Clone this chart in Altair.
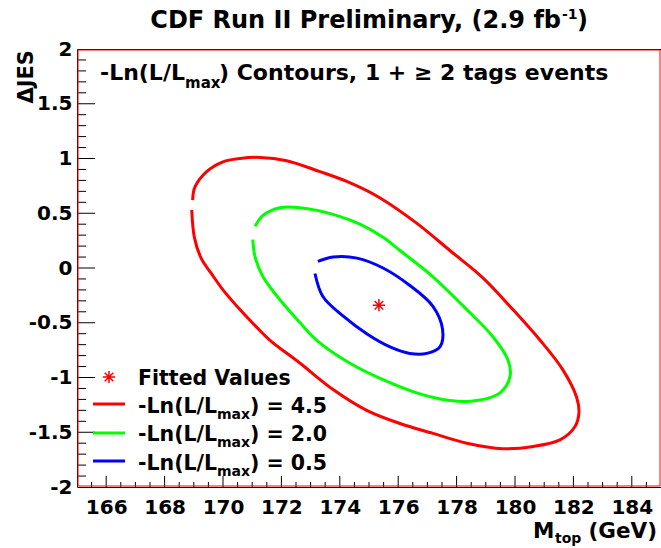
import altair as alt
import pandas as pd

# ---- data (M_top in GeV, Delta JES) ----
red_m = [168.96, 169.04, 169.44, 170.00, 170.58, 171.27, 172.18, 173.32, 174.24, 175.38,
         176.63, 177.77, 178.90, 179.93, 180.86, 181.64, 182.11, 182.19, 182.05, 181.54,
         180.62, 179.59, 178.35, 177.19, 176.06, 174.92, 173.77, 172.64, 171.61, 171.15,
         170.58, 170.00, 169.60, 169.25, 169.02, 168.93]
red_jes = [0.62, 0.74, 0.88, 0.97, 1.00, 1.01, 0.98, 0.88, 0.79, 0.64,
           0.41, 0.16, -0.09, -0.38, -0.66, -0.93, -1.18, -1.32, -1.45, -1.57,
           -1.63, -1.65, -1.60, -1.51, -1.42, -1.30, -1.11, -0.87, -0.66, -0.54,
           -0.38, -0.20, -0.05, 0.09, 0.28, 0.53]

green_m = [171.10, 171.37, 171.95, 172.64, 173.77, 174.69, 175.48, 176.06, 177.19, 178.35,
           179.25, 179.76, 179.83, 179.49, 178.69, 177.77, 176.63, 175.48, 174.35, 173.21,
           172.64, 171.95, 171.37, 171.10, 171.02]
green_jes = [0.38, 0.48, 0.55, 0.55, 0.49, 0.40, 0.28, 0.16, -0.08, -0.38,
             -0.63, -0.84, -0.99, -1.14, -1.21, -1.21, -1.14, -1.02, -0.87, -0.66,
             -0.50, -0.29, -0.08, 0.10, 0.26]

blue_m = [173.25, 173.77, 174.59, 175.48, 176.40, 177.19, 177.52, 177.43, 176.98, 176.40,
          175.72, 174.92, 174.12, 173.42, 173.15]
blue_jes = [0.06, 0.10, 0.09, 0.00, -0.16, -0.35, -0.56, -0.72, -0.78, -0.78,
            -0.72, -0.60, -0.44, -0.26, -0.05]

fit_m = [175.34]
fit_jes = [-0.34]

levels = ["4.5", "2.0", "0.5"]
level_colors = ["#ff0000", "#00ff00", "#0000ff"]

x_labels = [166, 168, 170, 172, 174, 176, 178, 180, 182, 184]
y_labels = [-2, -1.5, -1, -0.5, 0, 0.5, 1, 1.5, 2]
x_minor = [165.5 + 0.5 * k for k in range(39) if (165.5 + 0.5 * k) not in x_labels]
y_major = [-1.5, -1, -0.5, 0, 0.5, 1, 1.5]
y_minor = [round(-1.9 + 0.1 * k, 1) for k in range(39)]
y_minor = [v for v in y_minor if v not in y_major]

# ---- layout ----
W, H = 584, 438
FONT = "DejaVu Sans"

rows = []
for lev, ms, js in [(levels[0], red_m, red_jes), (levels[1], green_m, green_jes), (levels[2], blue_m, blue_jes)]:
    for i, (m, j) in enumerate(zip(ms, js)):
        rows.append({"level": lev, "m": m, "jes": j, "i": i})
contours = pd.DataFrame(rows)
fit = pd.DataFrame({"m": fit_m, "jes": fit_jes})
one = pd.DataFrame({"k": [0]})

xs = alt.Scale(domain=[165, 185], nice=False, zero=False)
ys = alt.Scale(domain=[-2, 2], nice=False, zero=False)

ax_common = dict(ticks=False, domain=False, grid=False, labelFont=FONT, labelFontWeight="bold",
                 labelFontSize=20, labelColor="black", title=None, labelFlush=False)
x_axis = alt.Axis(values=x_labels, labelPadding=10, **ax_common)
y_axis = alt.Axis(values=y_labels, labelPadding=5, labelExpr="datum.value + ''", **ax_common)

lines = alt.Chart(contours).mark_line(strokeWidth=3, clip=True, interpolate="catmull-rom").encode(
    x=alt.X("m:Q", scale=xs, axis=x_axis),
    y=alt.Y("jes:Q", scale=ys, axis=y_axis),
    color=alt.Color("level:N", scale=alt.Scale(domain=levels, range=level_colors), legend=None),
    order="i:Q",
    detail="level:N",
)

STAR = "M-1,0L1,0M0,-1L0,1M-0.7,-0.7L0.7,0.7M-0.7,0.7L0.7,-0.7"

star = alt.Chart(fit).mark_point(shape=STAR, filled=False, color="#ff0000", strokeWidth=1.5,
                                 size=150, opacity=1).encode(
    x=alt.X("m:Q", scale=xs, axis=x_axis), y=alt.Y("jes:Q", scale=ys, axis=y_axis))


def ticks_x(vals, length):
    return alt.Chart(pd.DataFrame({"t": vals})).mark_rule(color="black", strokeWidth=1).encode(
        x=alt.X("t:Q", scale=xs, axis=x_axis), y=alt.value(H), y2=alt.value(H - length))


def ticks_y(vals, length):
    return alt.Chart(pd.DataFrame({"t": vals})).mark_rule(color="black", strokeWidth=1).encode(
        y=alt.Y("t:Q", scale=ys, axis=y_axis), x=alt.value(0), x2=alt.value(length))


def txt(s, x, y, size, align="left", angle=0, color="black"):
    return alt.Chart(one).mark_text(text=s, font=FONT, fontWeight="bold", fontSize=size,
                                    align=align, baseline="alphabetic", angle=angle,
                                    color=color).encode(x=alt.value(x), y=alt.value(y))


def lrule(y, color):
    return alt.Chart(one).mark_rule(color=color, strokeWidth=3).encode(
        x=alt.value(16), x2=alt.value(48), y=alt.value(y))


frame = alt.Chart(one).mark_rect(fill=None, fillOpacity=0, stroke="#ff0000", strokeWidth=1).encode(
    x=alt.value(1), x2=alt.value(W - 1), y=alt.value(1), y2=alt.value(H - 1))

layers = [
    lines, star,
    ticks_x(x_labels, 11), ticks_x(x_minor, 5),
    ticks_y(y_major, 18), ticks_y(y_minor, 9),
    frame,
    # title
    txt("CDF Run II Preliminary, (2.9 fb", 484, -21, 24, align="right"),
    txt("-1", 485, -30, 14),
    txt(")", 500, -21, 24),
    # inner caption
    txt("-Ln(L/L", 23, 31, 22),
    txt("max", 108, 39, 15),
    txt(") Contours,  1 + \u2265 2 tags events", 142, 31, 22),
    # legend
    alt.Chart(one).mark_point(shape=STAR, filled=False, color="#ff0000", strokeWidth=1.5,
                              size=150, opacity=1).encode(x=alt.value(32), y=alt.value(328)),
    txt("Fitted Values", 61, 336, 20.5),
    lrule(355, "#ff0000"), lrule(384, "#00ff00"), lrule(412, "#0000ff"),
]
for k, val in enumerate(["4.5", "2.0", "0.5"]):
    yb = 364 + 28.3 * k
    layers += [
        txt("-Ln(L/L", 61, yb, 20.5),
        txt("max", 140, yb + 6, 14),
        txt(") = " + val, 173, yb, 20.5),
    ]
layers += [
    # axis titles
    txt("M", 456, 489, 21.5),
    txt("top", 478, 494, 14),
    txt(" (GeV)", 580, 489, 21.5, align="right"),
    txt("\u0394JES", -44, 1, 21, align="right", angle=270),
]

chart = alt.layer(*layers).properties(
    width=W, height=H,
    autosize=alt.AutoSizeParams(type="none"),
    padding={"left": 77, "top": 49, "right": 0, "bottom": 61},
    background="white",
).configure_view(stroke="black", strokeWidth=1)

chart.save("out.html", embed_options={"renderer": "svg", "actions": False})
